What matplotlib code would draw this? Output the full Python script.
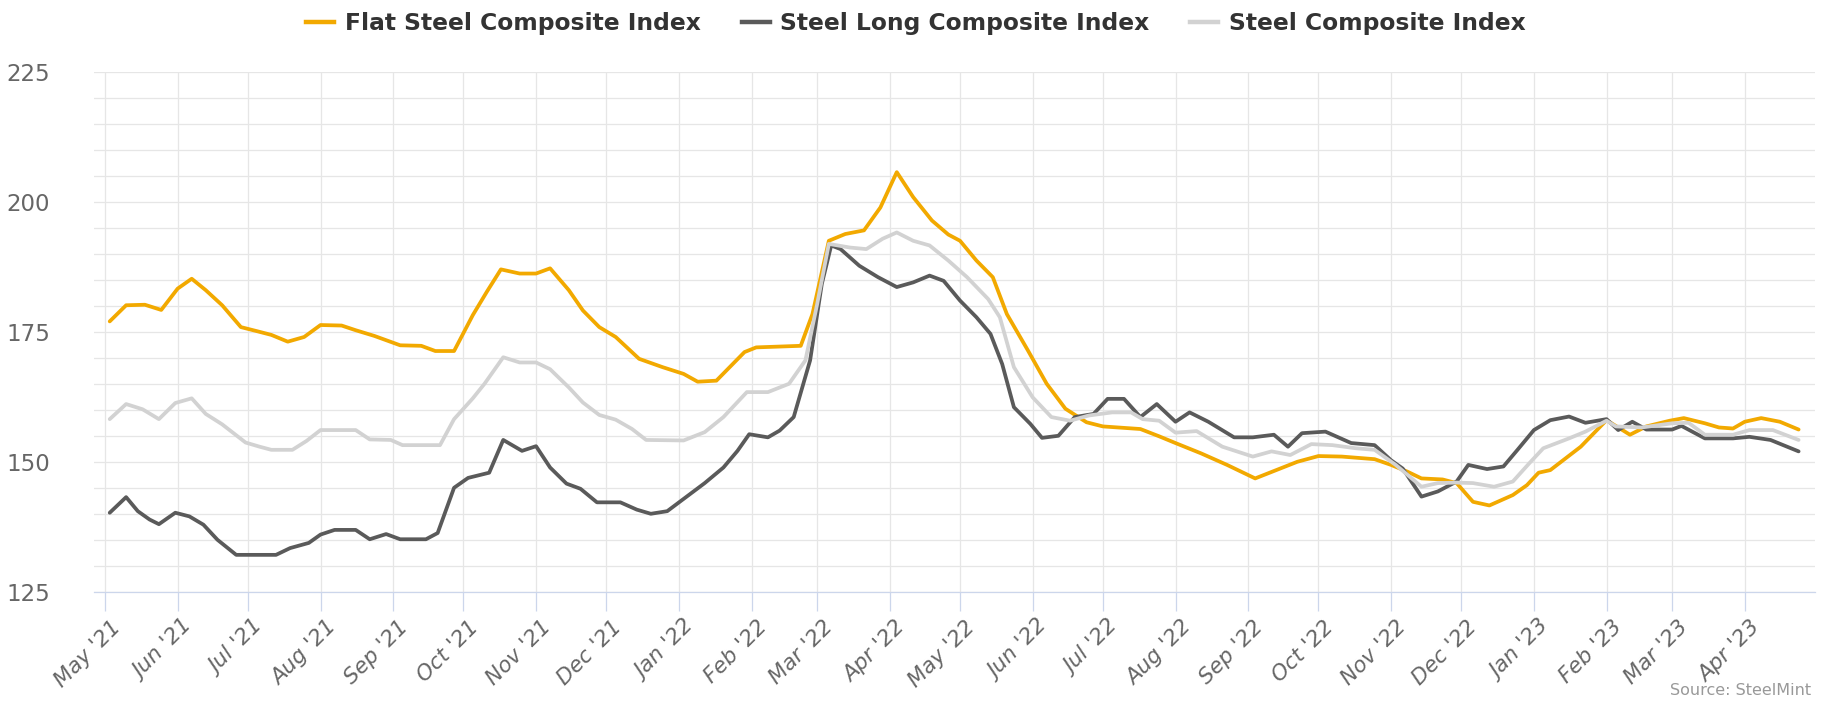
import matplotlib
matplotlib.use("Agg")
import matplotlib.pyplot as plt
import matplotlib.dates as mdates
from matplotlib.lines import Line2D
from matplotlib.ticker import MultipleLocator, FixedLocator
from matplotlib.transforms import ScaledTranslation
import pandas as pd

# ---------------- data ----------------
flat_dates = ["2021-05-03","2021-05-10","2021-05-18","2021-05-25","2021-06-01","2021-06-07","2021-06-13","2021-06-20","2021-06-28",
              "2021-07-05","2021-07-11","2021-07-18","2021-07-25","2021-08-01","2021-08-10","2021-08-16","2021-08-24",
              "2021-09-04","2021-09-13","2021-09-19","2021-09-27","2021-10-05","2021-10-11","2021-10-17","2021-10-25",
              "2021-11-01","2021-11-07","2021-11-15","2021-11-21","2021-11-28","2021-12-05","2021-12-15","2021-12-25",
              "2022-01-03","2022-01-09","2022-01-17","2022-01-29","2022-02-03","2022-02-22","2022-02-27",
              "2022-03-06","2022-03-13","2022-03-21","2022-03-28","2022-04-04","2022-04-11","2022-04-19","2022-04-26",
              "2022-05-01","2022-05-08","2022-05-15","2022-05-21","2022-05-30","2022-06-07","2022-06-15","2022-06-24",
              "2022-07-01","2022-07-17","2022-07-25","2022-08-01","2022-08-12","2022-08-23","2022-09-04","2022-09-13","2022-09-22",
              "2022-10-01","2022-10-11","2022-10-25","2022-11-01","2022-11-08","2022-11-14","2022-11-23","2022-11-29",
              "2022-12-06","2022-12-13","2022-12-23","2022-12-29","2023-01-03","2023-01-08","2023-01-21",
              "2023-02-01","2023-02-11","2023-02-18","2023-02-28","2023-03-06","2023-03-15","2023-03-21","2023-03-27",
              "2023-04-01","2023-04-08","2023-04-16","2023-04-24"]
flat_values = [177.1,180.2,180.3,179.3,183.4,185.3,183.1,180.2,176.0,
               175.2,174.5,173.2,174.1,176.4,176.3,175.4,174.3,
               172.5,172.4,171.4,171.4,178.3,182.8,187.1,186.3,
               186.3,187.3,183.1,179.2,176.0,174.1,169.9,168.3,
               167.0,165.5,165.7,171.2,172.1,172.4,178.5,
               192.6,193.9,194.6,199.0,205.8,201.0,196.5,193.8,
               192.6,188.8,185.6,178.5,171.5,165.1,160.3,157.7,
               156.9,156.4,155.0,153.7,151.7,149.5,146.9,148.5,150.1,
               151.2,151.1,150.6,149.5,148.2,146.9,146.7,146.0,
               142.4,141.7,143.7,145.6,148.0,148.5,153.0,
               158.1,155.3,156.9,158.0,158.5,157.5,156.7,156.5,
               157.8,158.5,157.8,156.3]

long_dates = ["2021-05-03","2021-05-10","2021-05-15","2021-05-20","2021-05-24","2021-05-31","2021-06-06","2021-06-12","2021-06-18",
              "2021-06-26","2021-07-13","2021-07-19","2021-07-27","2021-08-01","2021-08-07","2021-08-16","2021-08-22","2021-08-29",
              "2021-09-04","2021-09-15","2021-09-20","2021-09-27","2021-10-03","2021-10-12","2021-10-18","2021-10-26",
              "2021-11-01","2021-11-07","2021-11-14","2021-11-20","2021-11-27","2021-12-07","2021-12-14","2021-12-20","2021-12-27",
              "2022-01-04","2022-01-12","2022-01-20","2022-01-26","2022-01-31","2022-02-08","2022-02-13","2022-02-19","2022-02-26",
              "2022-03-03","2022-03-07","2022-03-11","2022-03-19","2022-03-27","2022-04-04","2022-04-11","2022-04-18","2022-04-24",
              "2022-05-01","2022-05-08","2022-05-14","2022-05-19","2022-05-24","2022-05-31","2022-06-05","2022-06-12","2022-06-19",
              "2022-06-27","2022-07-03","2022-07-10","2022-07-17","2022-07-24","2022-08-01","2022-08-07","2022-08-15","2022-08-26",
              "2022-09-03","2022-09-12","2022-09-18","2022-09-24","2022-10-04","2022-10-15","2022-10-25","2022-11-01","2022-11-06",
              "2022-11-14","2022-11-21","2022-11-29","2022-12-04","2022-12-12","2022-12-19","2022-12-25",
              "2023-01-01","2023-01-08","2023-01-16","2023-01-23","2023-02-01","2023-02-06","2023-02-12","2023-02-18",
              "2023-03-01","2023-03-05","2023-03-15","2023-03-27","2023-04-03","2023-04-12","2023-04-24"]
long_values = [140.3,143.3,140.6,139.0,138.1,140.3,139.6,138.0,135.1,
               132.2,132.2,133.5,134.5,136.1,137.0,137.0,135.2,136.2,
               135.2,135.2,136.4,145.1,147.0,148.0,154.3,152.2,
               153.1,149.0,145.9,144.9,142.3,142.3,140.9,140.1,140.6,
               143.3,146.0,149.0,152.2,155.4,154.8,156.1,158.7,169.6,
               184.3,191.7,191.0,187.8,185.6,183.7,184.6,185.9,184.9,
               181.1,177.9,174.7,168.9,160.6,157.4,154.7,155.1,158.7,
               159.3,162.2,162.2,158.7,161.2,157.8,159.6,157.8,154.8,
               154.8,155.3,153.0,155.6,155.9,153.7,153.3,150.4,148.8,
               143.4,144.4,146.3,149.5,148.7,149.2,152.4,
               156.2,158.1,158.8,157.6,158.3,156.2,157.8,156.3,
               156.3,157.0,154.6,154.6,154.9,154.3,152.1]

comp_dates = ["2021-05-03","2021-05-10","2021-05-17","2021-05-24","2021-05-31","2021-06-07","2021-06-13","2021-06-20","2021-06-30",
              "2021-07-06","2021-07-11","2021-07-20","2021-07-26","2021-08-01","2021-08-16","2021-08-22","2021-08-31",
              "2021-09-05","2021-09-21","2021-09-27","2021-10-05","2021-10-10","2021-10-18","2021-10-25",
              "2021-11-01","2021-11-07","2021-11-15","2021-11-21","2021-11-28","2021-12-05","2021-12-12","2021-12-18",
              "2022-01-03","2022-01-12","2022-01-20","2022-01-30","2022-02-08","2022-02-17","2022-02-24","2022-03-01",
              "2022-03-06","2022-03-15","2022-03-22","2022-03-29","2022-04-04","2022-04-11","2022-04-18","2022-04-26",
              "2022-05-04","2022-05-13","2022-05-18","2022-05-24","2022-06-01","2022-06-09","2022-06-17","2022-06-25",
              "2022-07-05","2022-07-13","2022-07-18","2022-07-25","2022-08-01","2022-08-10","2022-08-21",
              "2022-09-03","2022-09-11","2022-09-19","2022-09-28","2022-10-07","2022-10-17","2022-10-25",
              "2022-11-03","2022-11-08","2022-11-14","2022-11-21","2022-11-29","2022-12-06","2022-12-15","2022-12-23","2022-12-30",
              "2023-01-05","2023-01-16","2023-01-23","2023-02-01","2023-02-05","2023-02-16","2023-03-01","2023-03-08",
              "2023-03-15","2023-03-27","2023-04-03","2023-04-13","2023-04-24"]
comp_values = [158.3,161.2,160.2,158.3,161.4,162.3,159.3,157.3,153.8,
               153.0,152.4,152.4,154.1,156.2,156.2,154.4,154.3,
               153.3,153.3,158.3,162.3,165.1,170.2,169.2,
               169.2,167.9,164.4,161.5,159.1,158.2,156.4,154.3,
               154.2,155.8,158.7,163.5,163.5,165.1,169.6,180.4,
               192.0,191.3,191.0,193.0,194.2,192.6,191.7,188.8,
               185.6,181.4,177.9,168.3,162.5,158.7,158.0,159.0,
               159.6,159.6,158.3,158.0,155.7,156.0,153.0,
               151.1,152.1,151.4,153.5,153.3,152.7,152.4,
               149.5,147.6,145.3,146.0,146.1,146.0,145.3,146.3,149.8,
               152.7,154.6,155.9,158.0,156.9,156.7,157.5,157.6,
               155.3,155.3,156.2,156.2,154.3]

series_names = ["Flat Steel Composite Index", "Steel Long Composite Index", "Steel Composite Index"]
series_colors = ["#f2a900", "#5a5a5a", "#d2d2d2"]
y_ticks = [125, 150, 175, 200, 225]
source_text = "Source: SteelMint"

# ---------------- figure ----------------
W, H = 1834, 701
fig = plt.figure(figsize=(W / 100, H / 100), dpi=100)
x0, x1, y_top, y_bot = 94.3, 1815, 72.3, 592.3
ax = fig.add_axes([x0 / W, 1 - y_bot / H, (x1 - x0) / W, (y_bot - y_top) / H])

series = [(flat_dates, flat_values), (long_dates, long_values), (comp_dates, comp_values)]
handles = []
for (d, v), name, col in zip(series, series_names, series_colors):
    ax.plot(pd.to_datetime(d), v, color=col, lw=2.7, label=name,
            solid_joinstyle="round", solid_capstyle="round", zorder=3)
    handles.append(Line2D([], [], color=col, lw=3.2))

ax.set_ylim(125, 225)
ax.set_xlim(pd.Timestamp("2021-04-26 10:00"), pd.Timestamp("2023-05-01"))

# axes styling
for s in ["top", "right", "left"]:
    ax.spines[s].set_visible(False)
ax.spines["bottom"].set_color("#ccd6eb")
ax.spines["bottom"].set_linewidth(0.9)
ax.spines["bottom"].set_zorder(2)

ax.yaxis.set_major_locator(FixedLocator(y_ticks))
ax.yaxis.set_minor_locator(MultipleLocator(5))
ax.set_yticklabels([str(t) for t in y_ticks])
ax.tick_params(axis="y", which="both", length=0, labelsize=16.5, labelcolor="#666666", pad=32)

month_ticks = pd.date_range("2021-05-01", "2023-04-01", freq="MS")
ax.set_xticks(month_ticks)
ax.xaxis.set_major_formatter(mdates.DateFormatter("%b '%y"))
ax.tick_params(axis="x", which="major", length=13.7, width=0.9, color="#ccd6eb",
               labelsize=15.5, labelcolor="#666666", pad=4, direction="out")
off = ScaledTranslation(0.05, 0, fig.dpi_scale_trans)
for lab in ax.get_xticklabels():
    lab.set_rotation(45)
    lab.set_ha("right")
    lab.set_va("top")
    lab.set_rotation_mode("anchor")
    lab.set_fontstyle("italic")
    lab.set_transform(lab.get_transform() + off)

ax.set_axisbelow(True)
ax.grid(axis="y", which="both", color="#e6e6e6", lw=0.9)
ax.grid(axis="x", which="major", color="#e6e6e6", lw=0.9)

# legend
fig.legend(handles, series_names, loc="center", bbox_to_anchor=(916 / W, 1 - 23.4 / H),
           ncol=3, frameon=False, handlelength=1.2, handletextpad=0.45, columnspacing=1.75,
           borderpad=0, prop={"weight": "bold", "size": 16.8}, labelcolor="#333333")

fig.text(1811 / W, 1 - 690.5 / H, source_text, ha="right", va="center", fontsize=11.5, color="#999999")

fig.savefig("out.png", dpi=100)
